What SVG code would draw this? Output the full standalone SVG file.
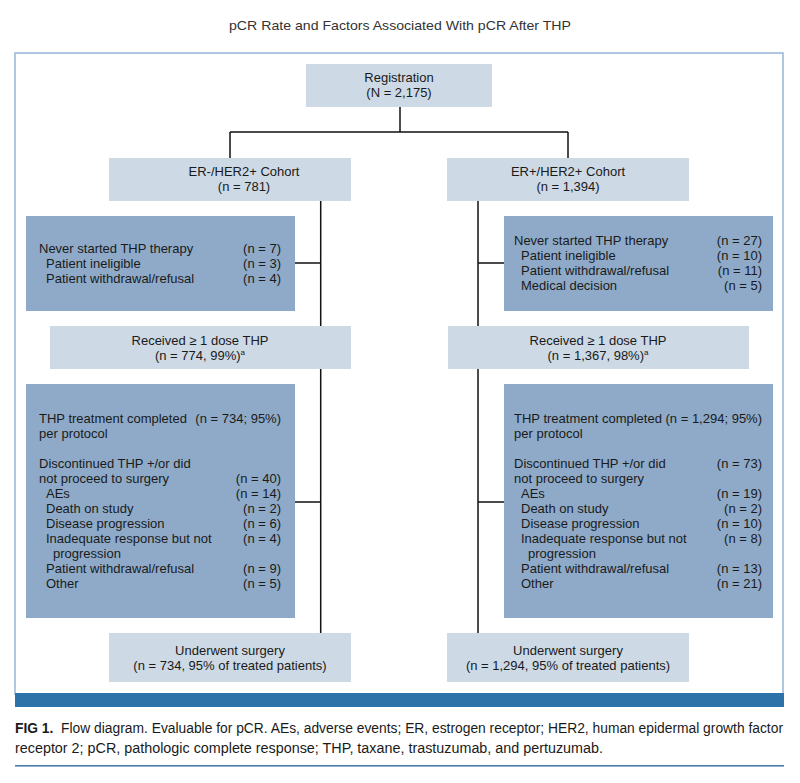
<svg xmlns="http://www.w3.org/2000/svg" width="800" height="783" viewBox="0 0 800 783">
<style>
text{font-family:"Liberation Sans",Arial,sans-serif;fill:#1a1a1a;font-size:13px}
.c{text-anchor:middle}
.r{text-anchor:end}
.light{fill:#cdd9e5}
.dark{fill:#8eaac8}
.ln{stroke:#111;stroke-width:1.5;fill:none}
.sup{font-size:8px}
</style>
<rect width="800" height="783" fill="#fff"/>
<text x="400" y="30" class="c" style="fill:#333;font-size:13.5px" textLength="342" lengthAdjust="spacingAndGlyphs">pCR Rate and Factors Associated With pCR After THP</text>
<rect id="frame" x="15" y="53" width="768" height="641" fill="#fff" stroke="#93b6d6" stroke-width="1.5"/>
<rect id="bar" x="15" y="693" width="769" height="14" fill="#2e72aa"/>
<g id="connectors">
<path class="ln" d="M400 107V132M230 132H568M230 132V158M568 132V158"/>
<path class="ln" d="M320.7 201V633M295 263H320.7M295 502H320.7"/>
<path class="ln" d="M478 201V633M478 263H504M478 502H504"/>
</g>
<g id="registration">
<rect class="light" x="306" y="64" width="186" height="43"/>
<text x="399" y="82" class="c">Registration</text>
<text x="399" y="97" class="c">(N = 2,175)</text>
</g>
<g id="cohort-left">
<rect class="light" x="109" y="158" width="242" height="43"/>
<text x="244" y="176" class="c">ER-/HER2+ Cohort</text>
<text x="244" y="191" class="c">(n = 781)</text>
</g>
<g id="cohort-right">
<rect class="light" x="447" y="158" width="242" height="43"/>
<text x="568" y="176" class="c">ER+/HER2+ Cohort</text>
<text x="568" y="191" class="c">(n = 1,394)</text>
</g>
<g id="never-left">
<rect class="dark" x="26" y="216" width="269" height="95"/>
<text x="39" y="252.5">Never started THP therapy</text>
<text x="281" y="252.5" class="r">(n = 7)</text>
<text x="46" y="267.5">Patient ineligible</text>
<text x="281" y="267.5" class="r">(n = 3)</text>
<text x="46" y="282.5">Patient withdrawal/refusal</text>
<text x="281" y="282.5" class="r">(n = 4)</text>
</g>
<g id="never-right">
<rect class="dark" x="504" y="216" width="269" height="95"/>
<text x="514" y="245">Never started THP therapy</text>
<text x="762" y="245" class="r">(n = 27)</text>
<text x="521" y="260">Patient ineligible</text>
<text x="762" y="260" class="r">(n = 10)</text>
<text x="521" y="275">Patient withdrawal/refusal</text>
<text x="762" y="275" class="r">(n = 11)</text>
<text x="521" y="290">Medical decision</text>
<text x="762" y="290" class="r">(n = 5)</text>
</g>
<g id="received-left">
<rect class="light" x="50" y="326" width="301" height="43"/>
<text x="200" y="345" class="c">Received ≥ 1 dose THP</text>
<text x="200" y="360" class="c">(n = 774, 99%)<tspan class="sup" dy="-5">a</tspan></text>
</g>
<g id="received-right">
<rect class="light" x="448" y="326" width="301" height="43"/>
<text x="598" y="345" class="c">Received ≥ 1 dose THP</text>
<text x="598" y="360" class="c">(n = 1,367, 98%)<tspan class="sup" dy="-5">a</tspan></text>
</g>
<g id="treatment-left">
<rect class="dark" x="26" y="384" width="269" height="234"/>
<text x="39" y="423">THP treatment completed</text>
<text x="281" y="423" class="r">(n = 734; 95%)</text>
<text x="39" y="438">per protocol</text>
<text x="39" y="468">Discontinued THP +/or did</text>
<text x="39" y="483">not proceed to surgery</text>
<text x="281" y="483" class="r">(n = 40)</text>
<text x="46" y="498">AEs</text>
<text x="281" y="498" class="r">(n = 14)</text>
<text x="46" y="513">Death on study</text>
<text x="281" y="513" class="r">(n = 2)</text>
<text x="46" y="528">Disease progression</text>
<text x="281" y="528" class="r">(n = 6)</text>
<text x="46" y="543">Inadequate response but not</text>
<text x="281" y="543" class="r">(n = 4)</text>
<text x="53" y="558">progression</text>
<text x="46" y="573">Patient withdrawal/refusal</text>
<text x="281" y="573" class="r">(n = 9)</text>
<text x="46" y="588">Other</text>
<text x="281" y="588" class="r">(n = 5)</text>
</g>
<g id="treatment-right">
<rect class="dark" x="504" y="384" width="269" height="234"/>
<text x="514" y="423">THP treatment completed</text>
<text x="762" y="423" class="r">(n = 1,294; 95%)</text>
<text x="514" y="438">per protocol</text>
<text x="514" y="468">Discontinued THP +/or did</text>
<text x="762" y="468" class="r">(n = 73)</text>
<text x="514" y="483">not proceed to surgery</text>
<text x="521" y="498">AEs</text>
<text x="762" y="498" class="r">(n = 19)</text>
<text x="521" y="513">Death on study</text>
<text x="762" y="513" class="r">(n = 2)</text>
<text x="521" y="528">Disease progression</text>
<text x="762" y="528" class="r">(n = 10)</text>
<text x="521" y="543">Inadequate response but not</text>
<text x="762" y="543" class="r">(n = 8)</text>
<text x="528" y="558">progression</text>
<text x="521" y="573">Patient withdrawal/refusal</text>
<text x="762" y="573" class="r">(n = 13)</text>
<text x="521" y="588">Other</text>
<text x="762" y="588" class="r">(n = 21)</text>
</g>
<g id="surgery-left">
<rect class="light" x="109" y="633" width="242" height="49"/>
<text x="230" y="655" class="c">Underwent surgery</text>
<text x="230" y="670" class="c">(n = 734, 95% of treated patients)</text>
</g>
<g id="surgery-right">
<rect class="light" x="447" y="633" width="242" height="49"/>
<text x="568" y="655" class="c">Underwent surgery</text>
<text x="568" y="670" class="c">(n = 1,294, 95% of treated patients)</text>
</g>
<text x="15" y="733" style="font-size:14px;white-space:pre" textLength="768" lengthAdjust="spacingAndGlyphs"><tspan font-weight="bold">FIG 1.</tspan>  Flow diagram. Evaluable for pCR. AEs, adverse events; ER, estrogen receptor; HER2, human epidermal growth factor</text>
<text x="15" y="753" style="font-size:14px" textLength="588" lengthAdjust="spacingAndGlyphs">receptor 2; pCR, pathologic complete response; THP, taxane, trastuzumab, and pertuzumab.</text>
<rect x="15" y="765" width="769" height="1.6" fill="#4a7fb0"/>
</svg>
